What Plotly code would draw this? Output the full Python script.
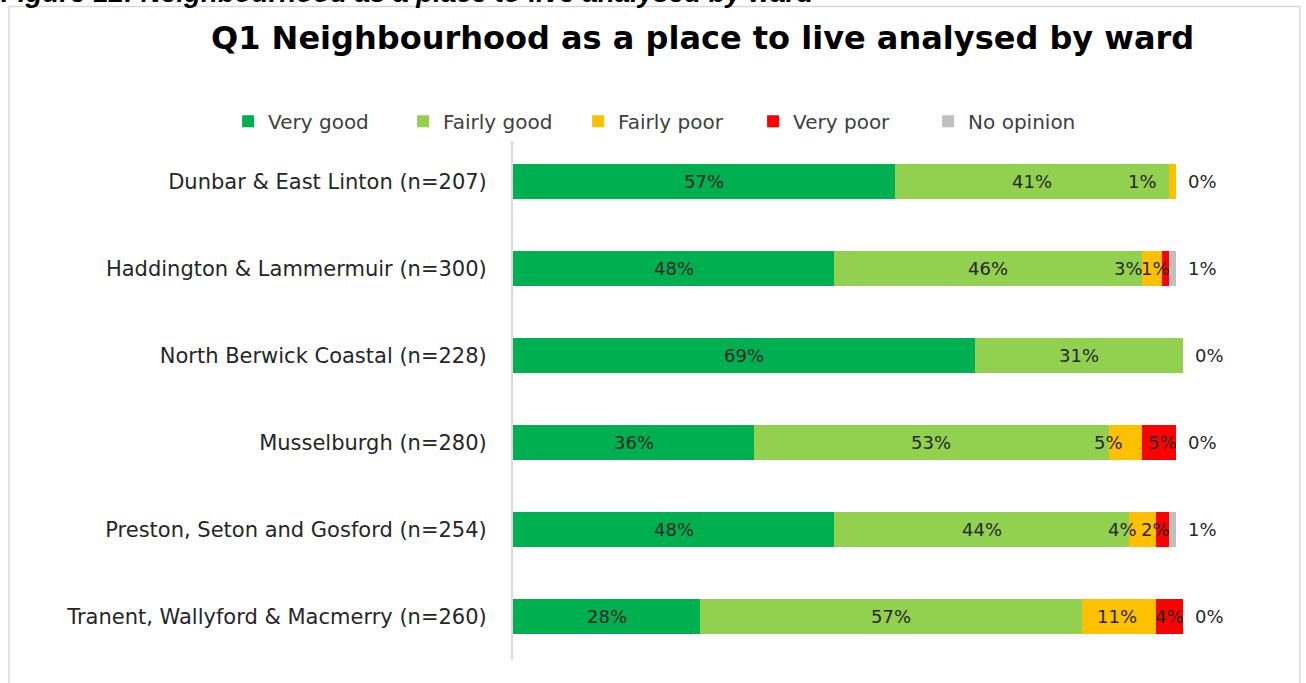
import plotly.graph_objects as go

# Survey results: "Q1 Neighbourhood as a place to live", by ward (percent of respondents)
wards = [
    "Dunbar & East Linton (n=207)",
    "Haddington & Lammermuir (n=300)",
    "North Berwick Coastal (n=228)",
    "Musselburgh (n=280)",
    "Preston, Seton and Gosford (n=254)",
    "Tranent, Wallyford & Macmerry (n=260)",
]
very_good = [57, 48, 69, 36, 48, 28]
fairly_good = [41, 46, 31, 53, 44, 57]
fairly_poor = [1, 3, 0, 5, 4, 11]
very_poor = [0, 1, 0, 5, 2, 4]
no_opinion = [0, 1, 0, 0, 1, 0]

series = [
    ("Very good", very_good, "#00B050"),
    ("Fairly good", fairly_good, "#92D050"),
    ("Fairly poor", fairly_poor, "#FFC000"),
    ("Very poor", very_poor, "#FF0000"),
    ("No opinion", no_opinion, "#BFBFBF"),
]

FONT = "DejaVu Sans"
LABEL_COLOR = "#262626"

fig = go.Figure()
for name, vals, color in series:
    fig.add_trace(go.Bar(
        y=wards, x=vals, name=name, orientation="h",
        marker=dict(color=color, line=dict(width=0)),
        hoverinfo="skip",
    ))

# Data labels placed from the cumulative segment positions
annotations = []
for i, ward in enumerate(wards):
    start = 0
    for k, (name, vals, color) in enumerate(series):
        v = vals[i]
        end = start + v
        txt = f"{v}%"
        if k < 2:
            annotations.append(dict(x=(start + end) / 2, y=ward, text=txt,
                                    xanchor="center", showarrow=False))
        elif k == 2 and v > 0:
            annotations.append(dict(x=end, y=ward, text=txt, xanchor="right",
                                    xshift=-17, showarrow=False))
        elif k == 3 and v > 0:
            annotations.append(dict(x=end, y=ward, text=txt, xanchor="right",
                                    xshift=3, showarrow=False))
        elif k == 4:
            annotations.append(dict(x=end, y=ward, text=txt, xanchor="left",
                                    xshift=10, showarrow=False))
        start = end
for a in annotations:
    a.update(xref="x", yref="y", yanchor="middle",
             font=dict(family=FONT, size=18, color=LABEL_COLOR))

# Chart title and the figure caption above the chart frame
annotations.append(dict(
    text="<b>Q1 Neighbourhood as a place to live analysed by ward</b>",
    xref="paper", yref="paper", x=0.2455, y=1.1916, xanchor="center", yanchor="middle",
    showarrow=False, font=dict(family=FONT, size=32, color="#000000"),
))
annotations.append(dict(
    text="<b><i>Figure 12: Neighbourhood as a place to live analysed by ward</i></b>",
    xref="paper", yref="paper", x=-0.668, y=1.2452, xanchor="left", yanchor="bottom",
    showarrow=False, font=dict(family="Liberation Sans", size=27.7, color="#000000"),
))

fig.update_layout(
    barmode="stack",
    bargap=0.59,
    width=1306, height=683,
    margin=dict(l=513, r=23, t=138, b=23),
    paper_bgcolor="white", plot_bgcolor="white",
    font=dict(family=FONT, color=LABEL_COLOR),
    showlegend=True,
    legend=dict(
        orientation="h", x=-0.370, y=1.032, xanchor="left", yanchor="middle",
        entrywidth=130, entrywidthmode="pixels",
        font=dict(family=FONT, size=20, color="#404040"),
        traceorder="normal", itemclick=False, itemdoubleclick=False,
    ),
    annotations=annotations,
    shapes=[dict(
        type="rect", xref="paper", yref="paper",
        x0=-0.6545, x1=1.022, y0=-0.08, y1=1.252,
        line=dict(color="#D9D9D9", width=1.5), fillcolor="rgba(0,0,0,0)", layer="below",
    )],
)
fig.update_xaxes(range=[0, 115], visible=False, fixedrange=True)
fig.update_yaxes(
    categoryorder="array", categoryarray=wards, autorange="reversed",
    showline=True, linecolor="#D9D9D9", linewidth=2, showgrid=False, zeroline=False,
    ticks="outside", ticklen=20, tickcolor="rgba(0,0,0,0)",
    tickfont=dict(family=FONT, size=21, color=LABEL_COLOR), fixedrange=True,
)

fig.write_html("out.html")
